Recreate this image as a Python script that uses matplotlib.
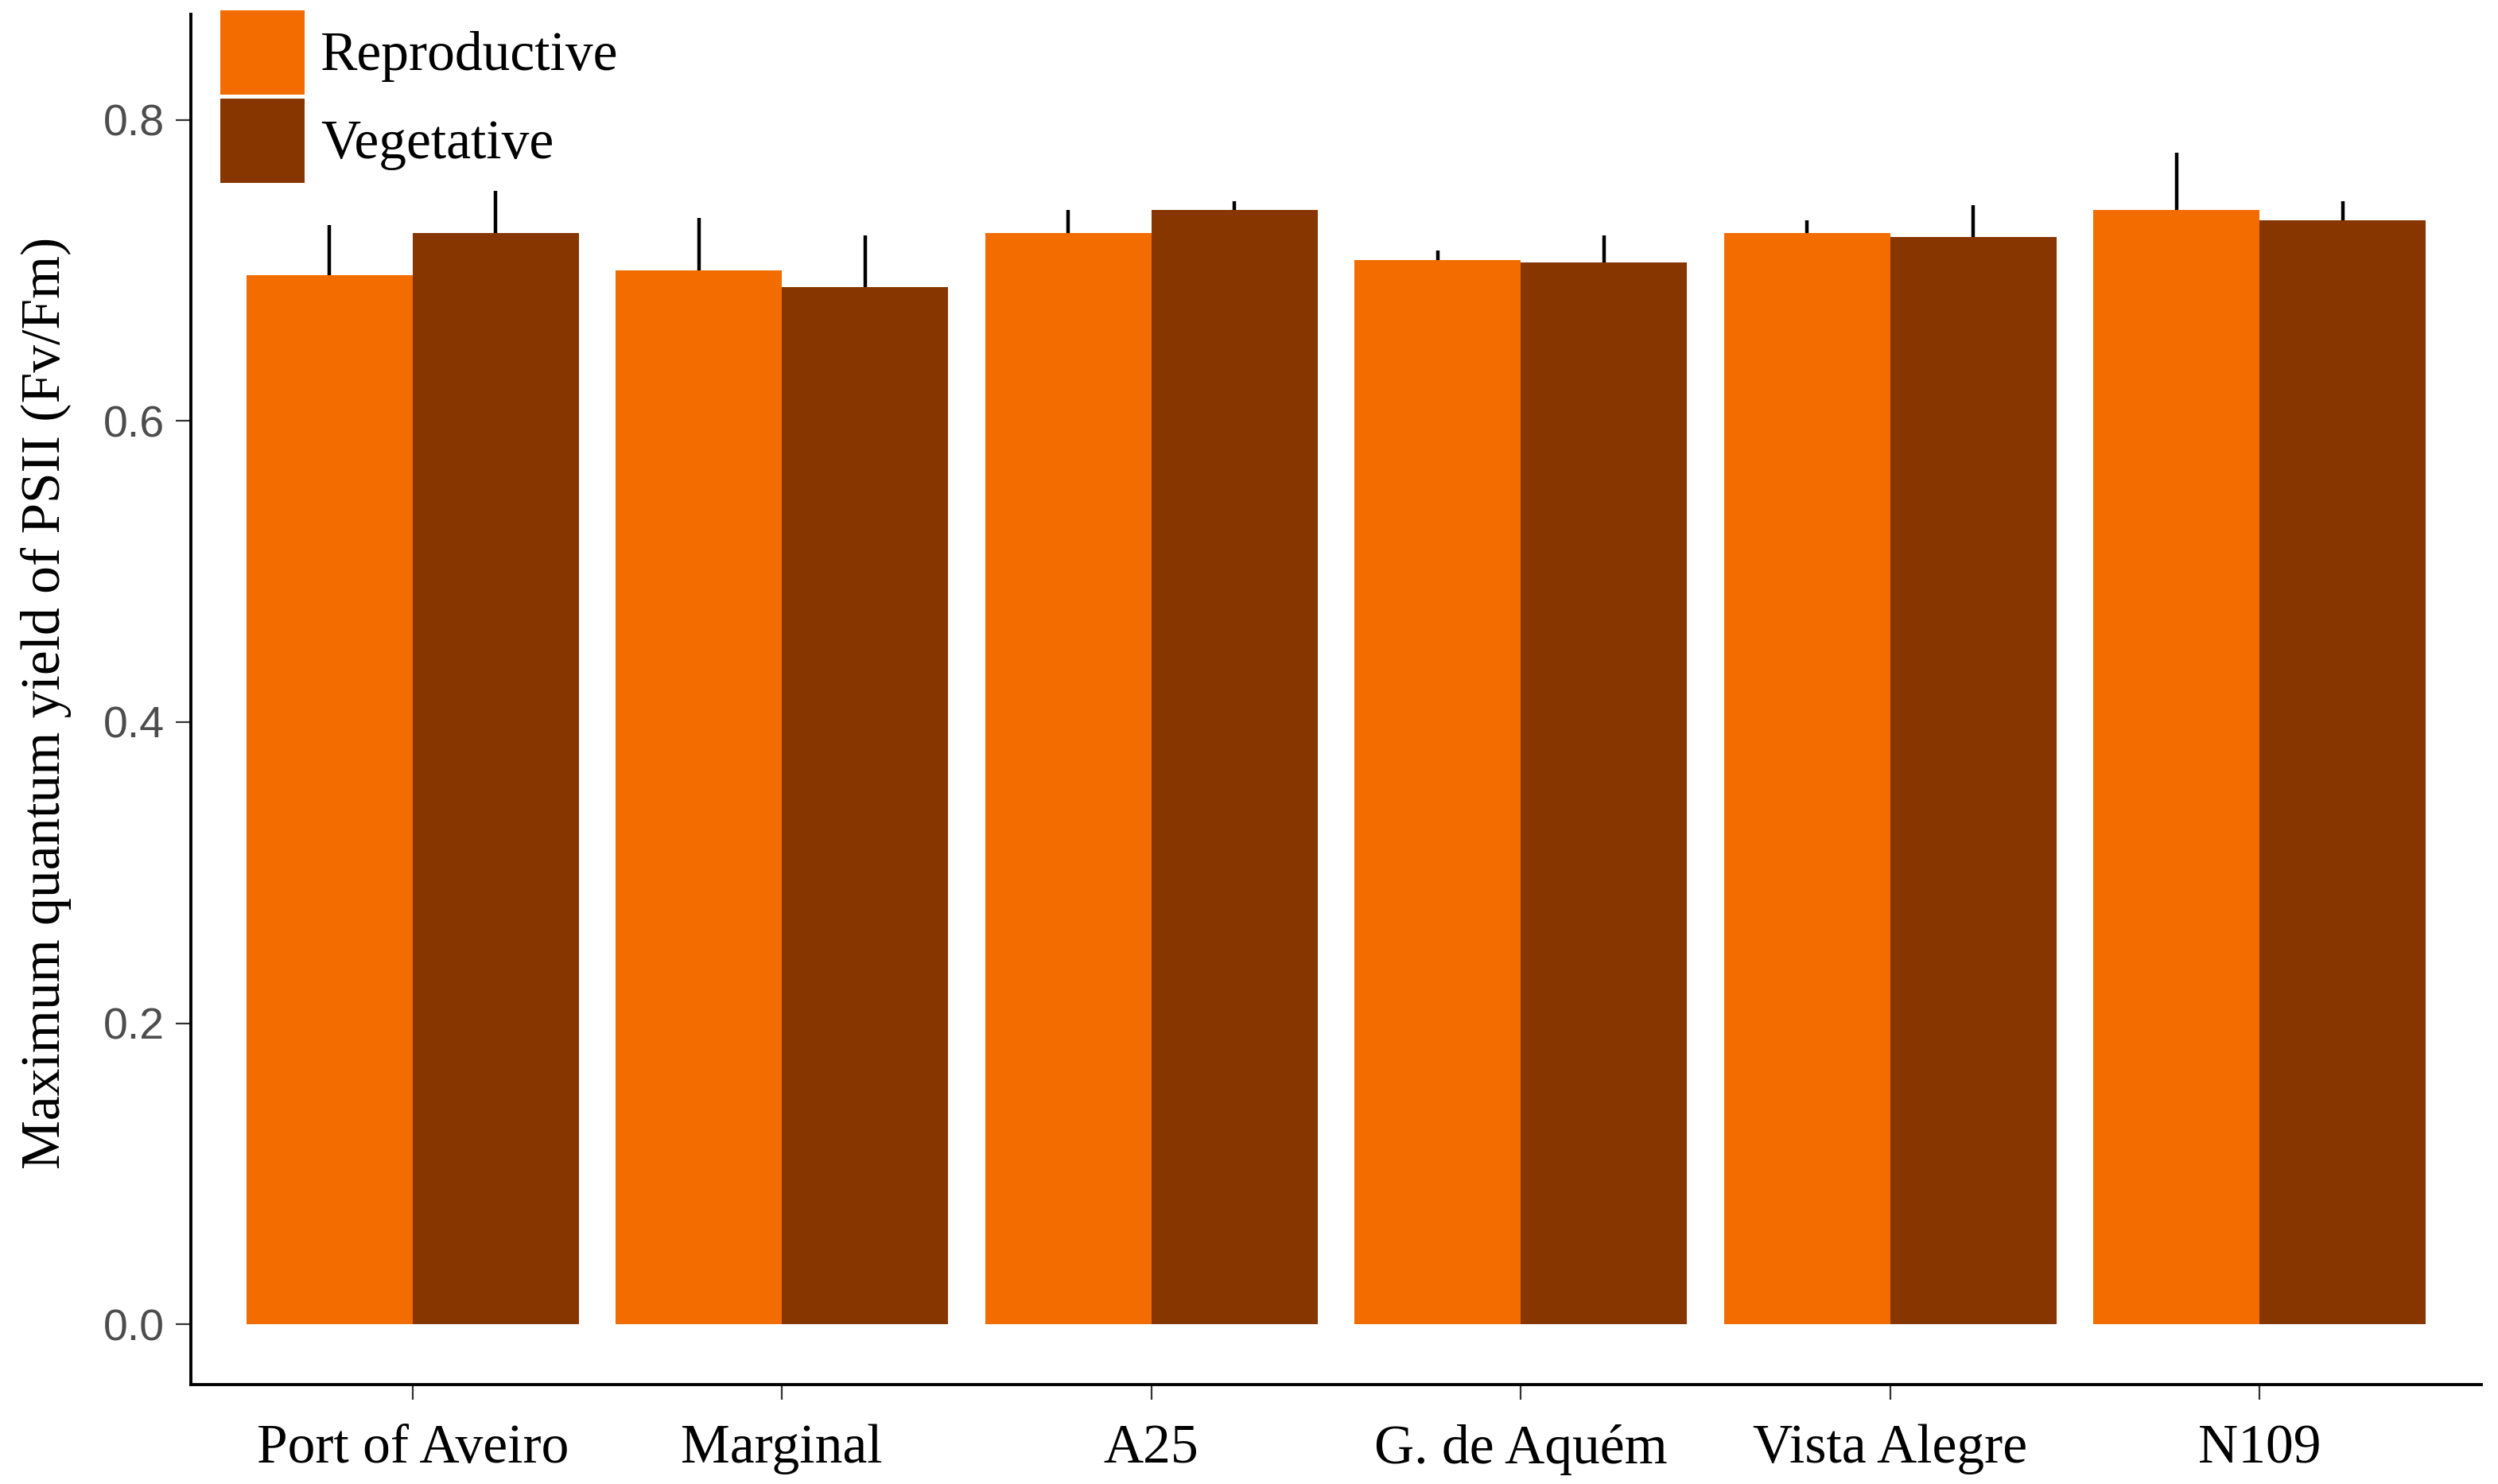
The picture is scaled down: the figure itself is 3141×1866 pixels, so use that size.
import matplotlib
matplotlib.use("Agg")
import matplotlib.pyplot as plt
import numpy as np

sites = ["Port of Aveiro", "Marginal", "A25", "G. de Aquém", "Vista Alegre", "N109"]
reproductive = [0.697, 0.700, 0.725, 0.707, 0.725, 0.740]
reproductive_err = [0.033, 0.035, 0.015, 0.006, 0.008, 0.038]
vegetative = [0.725, 0.689, 0.740, 0.705, 0.722, 0.733]
vegetative_err = [0.028, 0.034, 0.006, 0.018, 0.021, 0.013]
series_names = ["Reproductive", "Vegetative"]
yticks = [0.0, 0.2, 0.4, 0.6, 0.8]
ylabel = "Maximum quantum yield of PSII (Fv/Fm)"

c_rep = "#F26C00"
c_veg = "#873600"

W, H, DPI = 3141, 1866, 200
fig = plt.figure(figsize=(W / DPI, H / DPI), dpi=DPI)
ax = fig.add_axes([240 / W, 1 - 1741 / H, (3120 - 240) / W, (1741 - 18) / H])

x = np.arange(1, len(sites) + 1)
bw = 0.45
b1 = ax.bar(x - bw / 2, reproductive, width=bw, color=c_rep, linewidth=0,
            label=series_names[0], zorder=2)
b2 = ax.bar(x + bw / 2, vegetative, width=bw, color=c_veg, linewidth=0,
            label=series_names[1], zorder=2)
ax.errorbar(x - bw / 2, reproductive, yerr=[np.zeros(len(sites)), reproductive_err],
            fmt="none", ecolor="black", elinewidth=1.6, capsize=0, zorder=3)
ax.errorbar(x + bw / 2, vegetative, yerr=[np.zeros(len(sites)), vegetative_err],
            fmt="none", ecolor="black", elinewidth=1.6, capsize=0, zorder=3)

ax.set_xlim(0.4, 6.6)
ax.set_ylim(-0.04, 0.87)
ax.set_xticks(x)
ax.set_xticklabels(sites, fontfamily="Liberation Serif", fontsize=25, color="black")
ax.set_yticks(yticks)
ax.set_yticklabels([f"{v:.1f}" for v in yticks], fontfamily="Liberation Sans",
                   fontsize=20, color="#4D4D4D")
ax.tick_params(axis="both", length=7, width=0.8, color="#333333")
ax.tick_params(axis="y", pad=5)
ax.tick_params(axis="x", pad=11)

for s in ["top", "right"]:
    ax.spines[s].set_visible(False)
for s in ["left", "bottom"]:
    ax.spines[s].set_linewidth(1.4)
    ax.spines[s].set_color("black")

fig.text(58 / W, 1 - 884 / H, ylabel, rotation=90, ha="center", va="center",
         fontfamily="Liberation Serif", fontsize=25, color="black")

leg = ax.legend(handles=[b1, b2], loc="upper left",
                bbox_to_anchor=(277 / W, 1 - 13 / H), bbox_transform=fig.transFigure,
                frameon=False, borderaxespad=0, borderpad=0,
                handlelength=1.53, handleheight=1.97, handletextpad=0.29,
                labelspacing=0.07, prop={"family": "Liberation Serif", "size": 25})

fig.savefig("out.png", dpi=DPI)
